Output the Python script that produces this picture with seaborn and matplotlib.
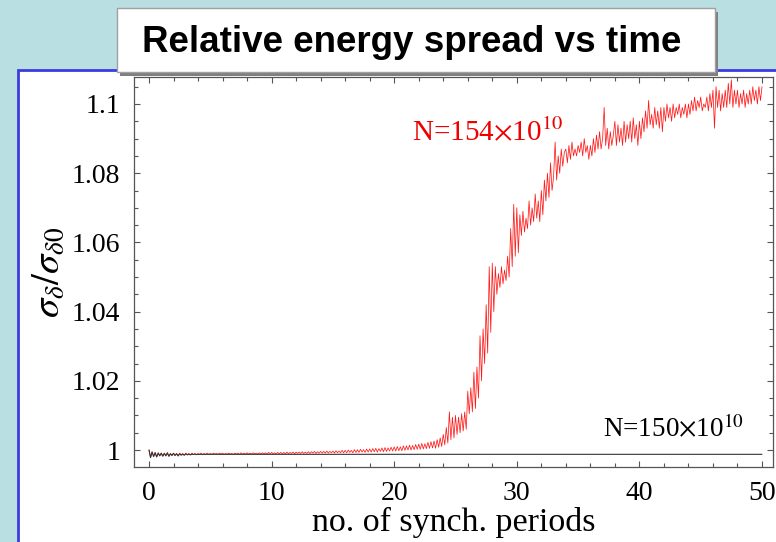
import numpy as np
import pandas as pd
import matplotlib
matplotlib.use("Agg")
import matplotlib.pyplot as plt
from matplotlib.patches import Rectangle
from matplotlib.ticker import MultipleLocator, FixedLocator, FixedFormatter
import seaborn as sns

# ---------------- data ----------------
# red series N=154e10, sampled every 0.125 synch. periods from 0 to 50
red_values = [
    1.0000, 0.9978, 0.9995, 0.9982, 0.9993, 0.9980, 0.9992, 0.9984,
    0.9992, 0.9983, 0.9991, 0.9984, 0.9993, 0.9982, 0.9990, 0.9985,
    0.9991, 0.9985, 0.9990, 0.9983, 0.9991, 0.9986, 0.9990, 0.9985,
    0.9991, 0.9986, 0.9990, 0.9986, 0.9991, 0.9987, 0.9990, 0.9986,
    0.9990, 0.9987, 0.9991, 0.9986, 0.9990, 0.9987, 0.9991, 0.9987,
    0.9990, 0.9987, 0.9991, 0.9988, 0.9990, 0.9987, 0.9991, 0.9988,
    0.9991, 0.9987, 0.9990, 0.9988, 0.9991, 0.9988, 0.9990, 0.9987,
    0.9991, 0.9988, 0.9991, 0.9987, 0.9992, 0.9988, 0.9991, 0.9988,
    0.9992, 0.9988, 0.9991, 0.9988, 0.9992, 0.9989, 0.9991, 0.9988,
    0.9992, 0.9988, 0.9992, 0.9989, 0.9992, 0.9988, 0.9993, 0.9989,
    0.9993, 0.9989, 0.9992, 0.9989, 0.9993, 0.9989, 0.9993, 0.9989,
    0.9993, 0.9989, 0.9994, 0.9989, 0.9993, 0.9990, 0.9994, 0.9989,
    0.9994, 0.9990, 0.9994, 0.9990, 0.9995, 0.9990, 0.9994, 0.9990,
    0.9995, 0.9990, 0.9995, 0.9991, 0.9996, 0.9990, 0.9995, 0.9991,
    0.9996, 0.9991, 0.9996, 0.9991, 0.9997, 0.9991, 0.9996, 0.9992,
    0.9997, 0.9991, 0.9998, 0.9992, 0.9997, 0.9992, 0.9999, 0.9992,
    0.9999, 0.9992, 1.0000, 0.9993, 0.9999, 0.9992, 1.0001, 0.9993,
    1.0001, 0.9993, 1.0002, 0.9994, 1.0001, 0.9993, 1.0003, 0.9994,
    1.0003, 0.9994, 1.0004, 0.9995, 1.0005, 0.9994, 1.0004, 0.9996,
    1.0006, 0.9995, 1.0007, 0.9996, 1.0006, 0.9997, 1.0008, 0.9997,
    1.0009, 0.9997, 1.0010, 0.9998, 1.0009, 0.9998, 1.0012, 0.9999,
    1.0012, 1.0000, 1.0014, 1.0000, 1.0013, 1.0001, 1.0016, 1.0002,
    1.0017, 1.0002, 1.0019, 1.0003, 1.0018, 1.0004, 1.0022, 1.0005,
    1.0024, 1.0006, 1.0026, 1.0005, 1.0030, 1.0008, 1.0035, 1.0010,
    1.0045, 1.0015, 1.0065, 1.0020, 1.0110, 1.0030, 1.0095, 1.0035,
    1.0100, 1.0045, 1.0095, 1.0050, 1.0105, 1.0055, 1.0110, 1.0060,
    1.0170, 1.0105, 1.0180, 1.0110, 1.0225, 1.0120, 1.0240, 1.0150,
    1.0330, 1.0200, 1.0350, 1.0250, 1.0420, 1.0280, 1.0530, 1.0340,
    1.0540, 1.0400, 1.0530, 1.0450, 1.0510, 1.0470, 1.0530, 1.0480,
    1.0520, 1.0490, 1.0560, 1.0500, 1.0640, 1.0530, 1.0710, 1.0560,
    1.0700, 1.0570, 1.0680, 1.0620, 1.0690, 1.0630, 1.0670, 1.0640,
    1.0720, 1.0650, 1.0700, 1.0660, 1.0740, 1.0670, 1.0720, 1.0660,
    1.0750, 1.0680, 1.0780, 1.0720, 1.0800, 1.0730, 1.0830, 1.0750,
    1.0790, 1.0890, 1.0780, 1.0850, 1.0800, 1.0870, 1.0820, 1.0860,
    1.0870, 1.0830, 1.0880, 1.0840, 1.0890, 1.0850, 1.0870, 1.0850,
    1.0880, 1.0860, 1.0890, 1.0850, 1.0900, 1.0860, 1.0880, 1.0840,
    1.0880, 1.0850, 1.0900, 1.0860, 1.0910, 1.0870, 1.0920, 1.0870,
    1.0900, 1.0990, 1.0880, 1.0930, 1.0870, 1.0920, 1.0880, 1.0910,
    1.0950, 1.0880, 1.0940, 1.0890, 1.0930, 1.0880, 1.0950, 1.0890,
    1.0940, 1.0900, 1.0950, 1.0890, 1.0960, 1.0900, 1.0940, 1.0880,
    1.0950, 1.0900, 1.0960, 1.0920, 1.0980, 1.0930, 1.1010, 1.0940,
    1.0970, 1.0930, 1.0990, 1.0940, 1.0980, 1.0930, 1.0990, 1.0920,
    1.0990, 1.0950, 1.1000, 1.0960, 1.0990, 1.0950, 1.1000, 1.0960,
    1.0990, 1.0970, 1.1000, 1.0960, 1.0990, 1.0970, 1.1000, 1.0960,
    1.1000, 1.0970, 1.1010, 1.0980, 1.1020, 1.0980, 1.1010, 1.0990,
    1.1020, 1.0980, 1.1000, 1.0990, 1.1020, 1.0980, 1.1030, 1.0990,
    1.1040, 1.0930, 1.1050, 1.0990, 1.1040, 1.0980, 1.1030, 1.0990,
    1.1040, 1.0990, 1.1060, 1.1000, 1.1070, 1.0990, 1.1040, 1.1000,
    1.1040, 1.0990, 1.1030, 1.1000, 1.1040, 1.0990, 1.1030, 1.1000,
    1.1040, 1.1000, 1.1050, 1.1010, 1.1040, 1.1000, 1.1050, 1.1010,
    1.1050,
]
red_time = np.linspace(0, 50, len(red_values))

# black series N=150e10: early wiggles then flat
black_time = [0.0, 0.125, 0.25, 0.375, 0.5, 0.625, 0.75, 0.875,
              1.0, 1.125, 1.25, 1.375, 1.5, 1.625, 1.75, 1.875,
              2.0, 2.125, 2.25, 2.375, 2.5, 2.625, 2.75, 2.875,
              3.0, 3.125, 3.25, 3.375, 3.5, 3.625, 3.75, 3.875,
              4.0, 50.0]
black_values = [1.0000, 0.9978, 0.9994, 0.9981, 0.9992, 0.9980, 0.9991, 0.9983,
                0.9990, 0.9982, 0.9990, 0.9983, 0.9991, 0.9982, 0.9989, 0.9984,
                0.9990, 0.9984, 0.9989, 0.9983, 0.9989, 0.9985, 0.9988, 0.9985,
                0.9989, 0.9986, 0.9988, 0.9986, 0.9988, 0.9987, 0.9988, 0.9987,
                0.99875, 0.99875]

x_ticks = [0, 10, 20, 30, 40, 50]
y_ticks = [1.0, 1.02, 1.04, 1.06, 1.08, 1.1]
y_tick_labels = ["1", "1.02", "1.04", "1.06", "1.08", "1.1"]

title = "Relative energy spread vs time"
x_label = "no. of synch. periods"
y_label = r"$\sigma_\delta/\sigma_{\delta0}$"
label_red = r"N=154$\times$10$^{10}$"
label_black = r"N=150$\times$10$^{10}$"

# ---------------- style ----------------
sns.set_style("ticks")
plt.rcParams["font.family"] = ["Liberation Serif", "DejaVu Serif"]
plt.rcParams["mathtext.fontset"] = "stix"
plt.rcParams["text.color"] = "black"
plt.rcParams["axes.labelcolor"] = "black"
plt.rcParams["xtick.labelcolor"] = "black"
plt.rcParams["ytick.labelcolor"] = "black"

W, H = 776, 542
fig = plt.figure(figsize=(W / 100, H / 100), dpi=100, facecolor="#badfe3")

# white panel with blue border
panel = Rectangle((18 / W, -0.2), 1.2, 0.2 + (1 - 70 / H), transform=fig.transFigure,
                  facecolor="white", edgecolor="#3b3be0", lw=2, zorder=-5)
fig.patches.append(panel)

ax = fig.add_axes([134 / W, 1 - 467 / H, (773 - 134) / W, (467 - 77) / H])
ax.set_facecolor("white")

df_red = pd.DataFrame({"t": red_time, "v": red_values})
df_black = pd.DataFrame({"t": black_time, "v": black_values})
sns.lineplot(data=df_red, x="t", y="v", ax=ax, color="#ff1a1a", lw=0.55, estimator=None)
sns.lineplot(data=df_black, x="t", y="v", ax=ax, color="#333333", lw=0.8, estimator=None)

ax.set_xlim(-15 / 12.26, (773 - 149) / 12.26)
ax.set_ylim(1 - 17 / 3460, 1 + 373 / 3460)

ax.xaxis.set_major_locator(FixedLocator(x_ticks))
ax.xaxis.set_minor_locator(MultipleLocator(2))
ax.yaxis.set_major_locator(FixedLocator(y_ticks))
ax.yaxis.set_major_formatter(FixedFormatter(y_tick_labels))
ax.yaxis.set_minor_locator(MultipleLocator(0.005))

ax.tick_params(which="both", direction="in", top=True, right=True,
               color="#555555", width=0.8)
ax.tick_params(which="major", length=4.5, labelsize=20, pad=10)
ax.tick_params(which="minor", length=3)
for s in ax.spines.values():
    s.set_color("#555555")
    s.set_linewidth(0.9)

ax.set_xlabel(x_label, fontsize=24.5, labelpad=1)
ax.set_ylabel(y_label, fontsize=28, labelpad=3)

ax.text(21.45, 1.0896, label_red, color="#ee0000", fontsize=21, va="baseline", ha="left")
ax.text(37.0, 1.0038, label_black, color="black", fontsize=19.5, va="baseline", ha="left")

# title box with shadow
shadow = Rectangle((120 / W, 1 - 76 / H), (715 - 117) / W, (72 - 8) / H,
                   transform=fig.transFigure, facecolor="#7f7f7f", edgecolor="none", zorder=10)
box = Rectangle((117 / W, 1 - 72 / H), (715 - 117) / W, (72 - 8) / H,
                transform=fig.transFigure, facecolor="white", edgecolor="#a0a0a0", lw=1, zorder=11)
fig.patches.extend([shadow, box])
fig.text(412 / W, 1 - 42 / H, title, ha="center", va="center", fontsize=26.5,
         fontweight="bold", color="black", family=["Liberation Sans", "DejaVu Sans"], zorder=12)

fig.savefig("out.png", dpi=100, facecolor=fig.get_facecolor())
